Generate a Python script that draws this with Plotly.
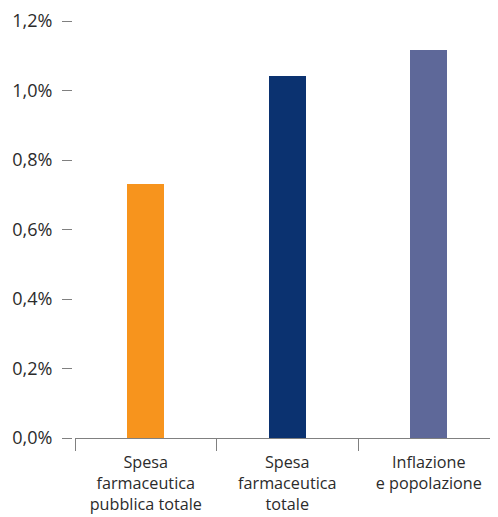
import plotly.graph_objects as go

categories = ["Spesa<br>farmaceutica<br>pubblica totale", "Spesa<br>farmaceutica<br>totale", "Inflazione<br>e popolazione"]
values = [0.73, 1.042, 1.117]
colors = ["#F7941D", "#0B3270", "#5E6899"]
y_ticks = [0, 0.2, 0.4, 0.6, 0.8, 1.0, 1.2]
y_tick_labels = ["0,0%", "0,2%", "0,4%", "0,6%", "0,8%", "1,0%", "1,2%"]

fig = go.Figure(go.Bar(x=categories, y=values, marker=dict(color=colors, line=dict(width=0)), width=0.26))

# page body has an 8px margin, so the figure is 490x509 inside a 498x517 window
W, H = 490, 509
L, R, T, B = 64, 0, 13, 79
pw = W - L - R
FONT = "Open Sans, Noto Sans, sans-serif"
TXT = "#2b2b2b"
fig.update_layout(
    width=W, height=H,
    margin=dict(l=L, r=R, t=T, b=B, pad=0),
    paper_bgcolor="white", plot_bgcolor="white",
    font=dict(family=FONT, size=16, color=TXT),
    showlegend=False,
    bargap=0,
)
fig.update_xaxes(
    domain=[3 / pw, 1],
    range=[-0.5, 2.489],
    automargin=False,
    showline=True, linecolor="#808080", linewidth=1.3,
    ticks="outside", tickson="boundaries", ticklen=12, tickcolor="#808080", tickwidth=1.3,
    showgrid=False, zeroline=False,
    ticklabelstandoff=9,
    tickfont=dict(family=FONT, size=16.2, color=TXT),
)
fig.update_yaxes(
    range=[0, 1.2], anchor="free", position=0,
    automargin=False,
    tickvals=y_ticks, ticktext=y_tick_labels,
    ticks="outside", ticklen=10, tickcolor="#808080", tickwidth=1.3,
    showline=False, showgrid=False, zeroline=False,
    ticklabelstandoff=6,
    tickfont=dict(family=FONT, size=18, color=TXT),
)
fig.write_html("out.html")
